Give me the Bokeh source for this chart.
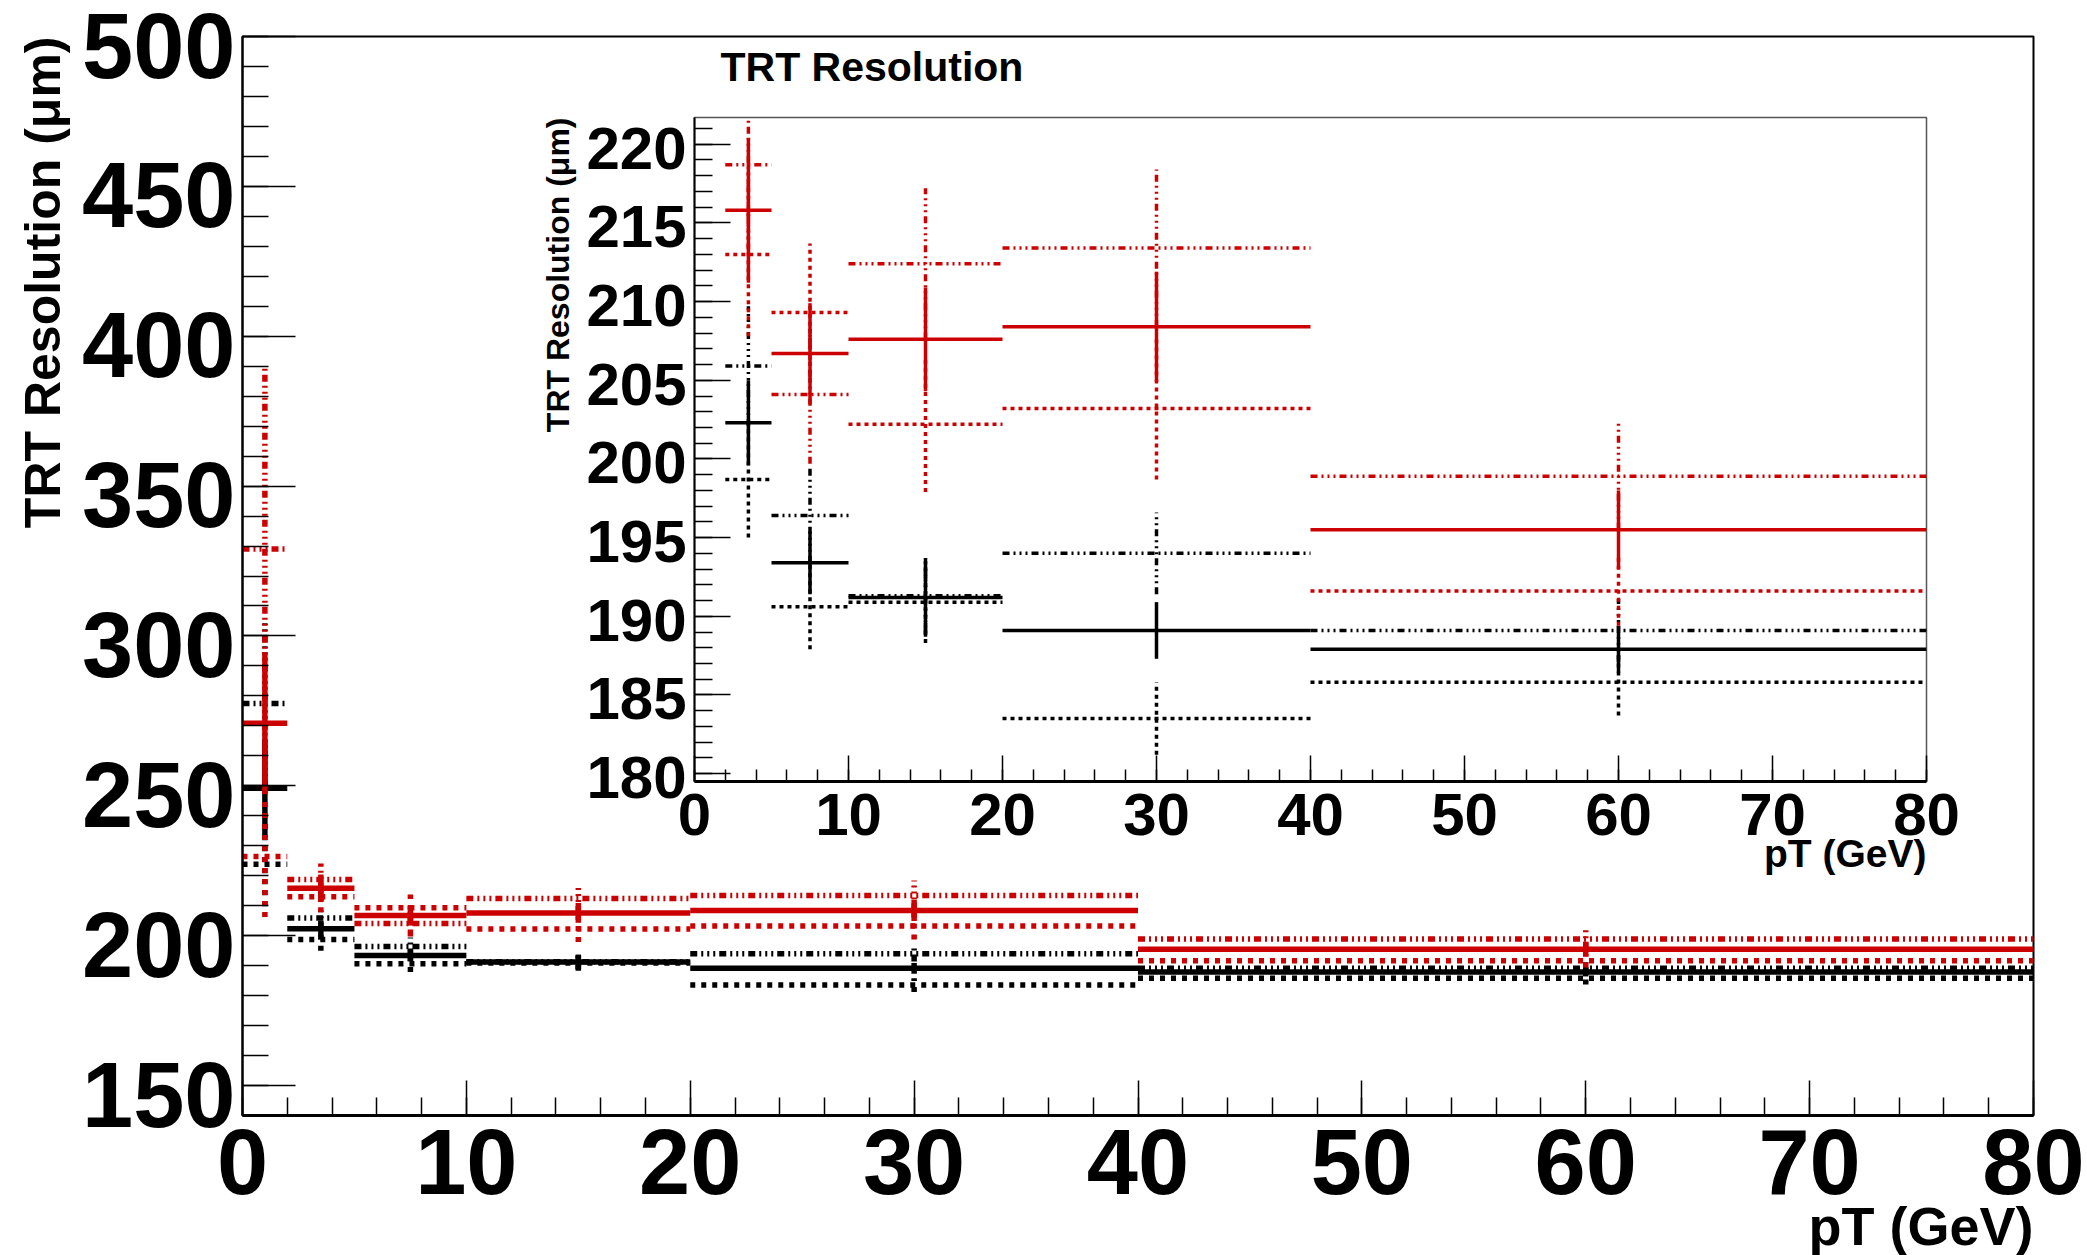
from bokeh.plotting import figure
from bokeh.models import (ColumnDataSource, SingleIntervalTicker, Range1d, Title,
                          LinearAxis, CustomJSTickFormatter)
from bokeh.layouts import column
from bokeh.embed import file_html
from bokeh.resources import INLINE

# ---------------- data ----------------
bin_low = [0, 2, 5, 10, 20, 40]
bin_high = [2, 5, 10, 20, 40, 80]

red_solid = [270.9, 215.8, 206.7, 207.6, 208.4, 195.5]
red_solid_err = [23.7, 4.6, 3.2, 3.3, 3.5, 2.5]
red_dotted = [226.4, 213.0, 209.3, 202.2, 203.2, 191.6]
red_dotted_err = [20.2, 5.2, 4.4, 4.3, 4.5, 2.2]
red_dashdot = [329.0, 218.7, 204.1, 212.4, 213.4, 198.9]
red_dashdot_err = [60.3, 5.4, 4.4, 4.8, 5.0, 3.4]

black_solid = [249.2, 202.3, 193.4, 191.2, 189.1, 187.9]
black_solid_err = [16.0, 2.7, 2.0, 2.5, 1.8, 1.5]
black_dotted = [223.8, 198.7, 190.6, 190.9, 183.5, 185.8]
black_dotted_err = [14.0, 3.7, 2.7, 2.6, 2.3, 2.1]
black_dashdot = [277.5, 205.9, 196.4, 191.3, 194.0, 189.1]
black_dashdot_err = [28.0, 3.8, 3.0, 2.4, 2.6, 2.0]

main_x_range = (0, 80)
main_y_range = (140, 500)
inset_x_range = (0, 80)
inset_y_range = (179.5, 221.7)

title_text = "TRT Resolution"
y_title = "TRT Resolution (\u03bcm)"
x_title = "pT (GeV)"

FONT = "Liberation Sans"
RED = "#cc0000"
BLACK = "#000000"

series = [
    ("black_dotted", black_dotted, black_dotted_err, BLACK, "dotted"),
    ("black_dashdot", black_dashdot, black_dashdot_err, BLACK, "dashdot"),
    ("black_solid", black_solid, black_solid_err, BLACK, "solid"),
    ("red_dotted", red_dotted, red_dotted_err, RED, "dotted"),
    ("red_dashdot", red_dashdot, red_dashdot_err, RED, "dashdot"),
    ("red_solid", red_solid, red_solid_err, RED, "solid"),
]


def build_source(vals, errs, yr=None):
    d = dict(x0=[], x1=[], xc=[], y=[], ylo=[], yhi=[])
    for lo, hi, v, e in zip(bin_low, bin_high, vals, errs):
        if yr is not None and not (yr[0] <= v <= yr[1]):
            continue
        d["x0"].append(lo)
        d["x1"].append(hi)
        d["xc"].append((lo + hi) / 2.0)
        d["y"].append(v)
        d["ylo"].append(v - e)
        d["yhi"].append(v + e)
    return ColumnDataSource(d)


def draw(p, width, dashes, yr=None):
    for name, vals, errs, color, style in series:
        src = build_source(vals, errs, yr)
        dash = dashes[style]
        p.segment(x0="x0", x1="x1", y0="y", y1="y", source=src,
                  line_color=color, line_width=width, line_dash=dash)
        p.segment(x0="xc", x1="xc", y0="ylo", y1="yhi", source=src,
                  line_color=color, line_width=width, line_dash=dash)


def style_axes(p, tick_font, xin, xmin, yin, ymin, x_tick_standoff,
               y_tick_standoff, x_interval, y_interval, yr, label_shift):
    xa = p.xaxis[0]
    ya = p.yaxis[0]
    xa.ticker = SingleIntervalTicker(interval=x_interval, num_minor_ticks=5)
    ya.ticker = SingleIntervalTicker(interval=y_interval, num_minor_ticks=5)
    for ax, tin, tmin in ((xa, xin, xmin), (ya, yin, ymin)):
        ax.major_tick_in = tin
        ax.major_tick_out = 0
        ax.minor_tick_in = tmin
        ax.minor_tick_out = 0
        ax.major_tick_line_color = "black"
        ax.minor_tick_line_color = "black"
        ax.major_tick_line_width = 1.5
        ax.minor_tick_line_width = 1.5
        ax.axis_line_color = "black"
        ax.major_label_text_font = FONT
        ax.major_label_text_font_size = tick_font
        ax.major_label_text_font_style = "bold"
        ax.major_label_text_color = "black"
    xa.major_label_standoff = x_tick_standoff
    # the y tick marks come from the first axis; its numbers are drawn by a
    # second, label-only axis whose range is offset a little, since ROOT
    # prints these numbers slightly below their ticks
    ya.formatter = CustomJSTickFormatter(code="return ''")
    ya.major_label_standoff = 0
    p.extra_y_ranges = {"ylab": Range1d(yr[0] + label_shift, yr[1] + label_shift)}
    lab = LinearAxis(y_range_name="ylab",
                     ticker=SingleIntervalTicker(interval=y_interval, num_minor_ticks=5),
                     axis_line_color=None, major_tick_line_color=None,
                     minor_tick_line_color=None, major_tick_in=0, major_tick_out=0,
                     minor_tick_in=0, minor_tick_out=0,
                     major_label_standoff=y_tick_standoff,
                     major_label_text_font=FONT, major_label_text_font_size=tick_font,
                     major_label_text_font_style="bold", major_label_text_color="black")
    p.add_layout(lab, "left")
    p.xgrid.visible = False
    p.ygrid.visible = False


def add_axis_titles(p, xsize, ysize, xstand, ystand):
    ty = Title(text=y_title, align="right", text_font=FONT, text_font_size=ysize,
               text_font_style="bold", text_color="black", standoff=ystand)
    p.add_layout(ty, "left")
    tx = Title(text=x_title, align="right", text_font=FONT, text_font_size=xsize,
               text_font_style="bold", text_color="black", standoff=xstand)
    p.add_layout(tx, "below")


# ---------------- main plot ----------------
p = figure(width=2087, height=1255,
           x_range=Range1d(*main_x_range), y_range=Range1d(*main_y_range),
           output_backend="svg", toolbar_location=None,
           min_border_left=242, min_border_right=54,
           min_border_top=36, min_border_bottom=140)
p.outline_line_color = "black"
p.outline_line_width = 2
p.background_fill_color = "white"
p.border_fill_color = "white"
style_axes(p, "92px", 35, 18, 53, 26, x_tick_standoff=14, y_tick_standoff=7,
           x_interval=10, y_interval=50, yr=main_y_range, label_shift=3.0)
p.xaxis[0].axis_line_width = 3
p.yaxis[0].axis_line_width = 2
add_axis_titles(p, "54px", "50px", xstand=-5, ystand=17)
draw(p, 5.5, {"solid": "solid", "dotted": "5 6", "dashdot": "7 4 2 4 2 4 2 4"})

# ---------------- inset ----------------
IN_LEFT, IN_RIGHT, IN_TOP, IN_BOTTOM = 242, 54, 100, 100
pi = figure(width=IN_LEFT + 1232 + IN_RIGHT, height=IN_TOP + 667 + IN_BOTTOM,
            x_range=Range1d(*inset_x_range), y_range=Range1d(*inset_y_range),
            output_backend="svg", toolbar_location=None,
            min_border_left=IN_LEFT, min_border_right=IN_RIGHT,
            min_border_top=IN_TOP, min_border_bottom=IN_BOTTOM)
pi.background_fill_color = None
pi.border_fill_color = None
pi.outline_line_color = "#555555"
pi.outline_line_width = 1.5
pi.title.text = title_text
pi.title.align = "left"
pi.title.offset = 26
pi.title.standoff = 55
pi.title.text_font = FONT
pi.title.text_font_size = "41px"
pi.title.text_font_style = "bold"
pi.title.text_color = "black"
style_axes(pi, "60px", 26, 12, 36, 18, x_tick_standoff=12, y_tick_standoff=8,
           x_interval=10, y_interval=5, yr=inset_y_range, label_shift=0.25)
pi.xaxis[0].axis_line_width = 3
pi.yaxis[0].axis_line_width = 2
add_axis_titles(pi, "39px", "32px", xstand=-16, ystand=15)
draw(pi, 3.5, {"solid": "solid", "dotted": "4 4", "dashdot": "7 4 2 4 2 4 2 4"},
     yr=inset_y_range)

# inset frame should sit at (694, 114) on the page
pi.margin = (114 - IN_TOP - 1255, 0, 0, 694 - IN_LEFT)

layout = column(p, pi, spacing=0)
open("out.html", "w").write(file_html(layout, INLINE))
